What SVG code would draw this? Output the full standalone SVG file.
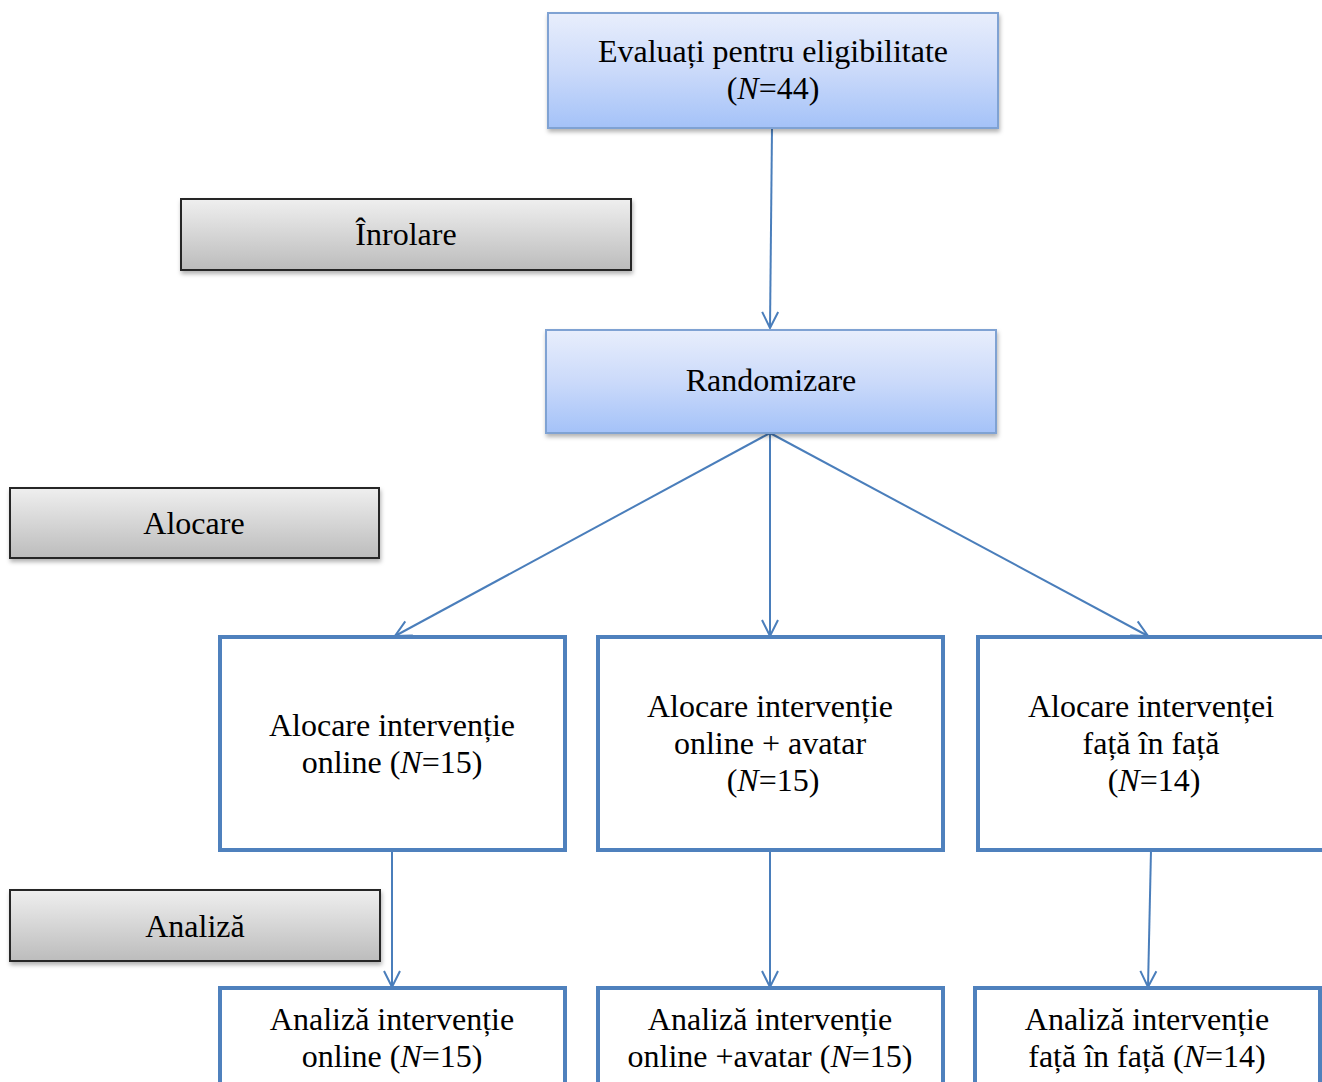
<svg xmlns="http://www.w3.org/2000/svg" width="1322" height="1082" viewBox="0 0 1322 1082">
  <defs>
    <linearGradient id="gBlue" x1="0" y1="0" x2="0" y2="1">
      <stop offset="0" stop-color="#e8eefc"/>
      <stop offset="0.5" stop-color="#cbdafa"/>
      <stop offset="1" stop-color="#a4c2f8"/>
    </linearGradient>
    <linearGradient id="gGray" x1="0" y1="0" x2="0" y2="1">
      <stop offset="0" stop-color="#efefef"/>
      <stop offset="1" stop-color="#bcbcbc"/>
    </linearGradient>
    <filter id="shadow" x="-5%" y="-10%" width="110%" height="130%">
      <feDropShadow dx="1" dy="3" stdDeviation="2" flood-color="#000" flood-opacity="0.3"/>
    </filter>
    <marker id="arrow" viewBox="0 0 20 20" refX="18" refY="10" markerWidth="20" markerHeight="20" markerUnits="userSpaceOnUse" orient="auto">
      <path d="M2,2 L18,10 L2,18" fill="none" stroke="#4a7ebb" stroke-width="2"/>
    </marker>
  </defs>
  <style>
    text { font-family: "Liberation Serif", "Times New Roman", serif; font-size: 32px; fill: #000; text-anchor: middle; }
    .blue { fill: url(#gBlue); stroke: #7fa2d3; stroke-width: 2; filter: url(#shadow); }
    .gray { fill: url(#gGray); stroke: #262626; stroke-width: 2; filter: url(#shadow); }
    .stage { fill: #fff; stroke: #4f81bd; stroke-width: 4; }
    .conn { fill: none; stroke: #4a7ebb; stroke-width: 2; marker-end: url(#arrow); }
  </style>
  <rect width="1322" height="1082" fill="#fff"/>

  <g id="connectors">
    <line class="conn" x1="772" y1="128" x2="770" y2="328"/>
    <line class="conn" x1="770" y1="433" x2="395" y2="636"/>
    <line class="conn" x1="770" y1="433" x2="770" y2="636"/>
    <line class="conn" x1="770" y1="433" x2="1148" y2="636"/>
    <line class="conn" x1="392" y1="850" x2="392" y2="987"/>
    <line class="conn" x1="770" y1="850" x2="770" y2="987"/>
    <line class="conn" x1="1151" y1="850" x2="1148" y2="987"/>
  </g>

  <g id="eligibility">
    <rect class="blue" x="548" y="13" width="450" height="115"/>
    <text x="773" y="62">Evaluați pentru eligibilitate</text>
    <text x="773" y="99">(<tspan font-style="italic">N</tspan>=44)</text>
  </g>

  <g id="enrolment">
    <rect class="gray" x="181" y="199" width="450" height="71"/>
    <text x="406" y="245">Înrolare</text>
  </g>

  <g id="randomisation">
    <rect class="blue" x="546" y="330" width="450" height="103"/>
    <text x="771" y="391">Randomizare</text>
  </g>

  <g id="allocation-label">
    <rect class="gray" x="10" y="488" width="369" height="70"/>
    <text x="194" y="534">Alocare</text>
  </g>

  <g id="analysis-label">
    <rect class="gray" x="10" y="890" width="370" height="71"/>
    <text x="195" y="937">Analiză</text>
  </g>

  <g id="alloc-online">
    <rect class="stage" x="220" y="637" width="345" height="213"/>
    <text x="392" y="736">Alocare intervenție</text>
    <text x="392" y="773">online (<tspan font-style="italic">N</tspan>=15)</text>
  </g>

  <g id="alloc-avatar">
    <rect class="stage" x="598" y="637" width="345" height="213"/>
    <text x="770" y="717">Alocare intervenție</text>
    <text x="770" y="754">online + avatar</text>
    <text x="773" y="791">(<tspan font-style="italic">N</tspan>=15)</text>
  </g>

  <g id="alloc-f2f">
    <rect class="stage" x="978" y="637" width="346" height="213"/>
    <text x="1151" y="717">Alocare intervenței</text>
    <text x="1151" y="754">față în față</text>
    <text x="1154" y="791">(<tspan font-style="italic">N</tspan>=14)</text>
  </g>

  <g id="analysis-online">
    <rect class="stage" x="220" y="988" width="345" height="100"/>
    <text x="392" y="1030">Analiză intervenție</text>
    <text x="392" y="1067">online (<tspan font-style="italic">N</tspan>=15)</text>
  </g>

  <g id="analysis-avatar">
    <rect class="stage" x="598" y="988" width="345" height="100"/>
    <text x="770" y="1030">Analiză intervenție</text>
    <text x="770" y="1067">online +avatar (<tspan font-style="italic">N</tspan>=15)</text>
  </g>

  <g id="analysis-f2f">
    <rect class="stage" x="975" y="988" width="345" height="100"/>
    <text x="1147" y="1030">Analiză intervenție</text>
    <text x="1147" y="1067">față în față (<tspan font-style="italic">N</tspan>=14)</text>
  </g>
</svg>
